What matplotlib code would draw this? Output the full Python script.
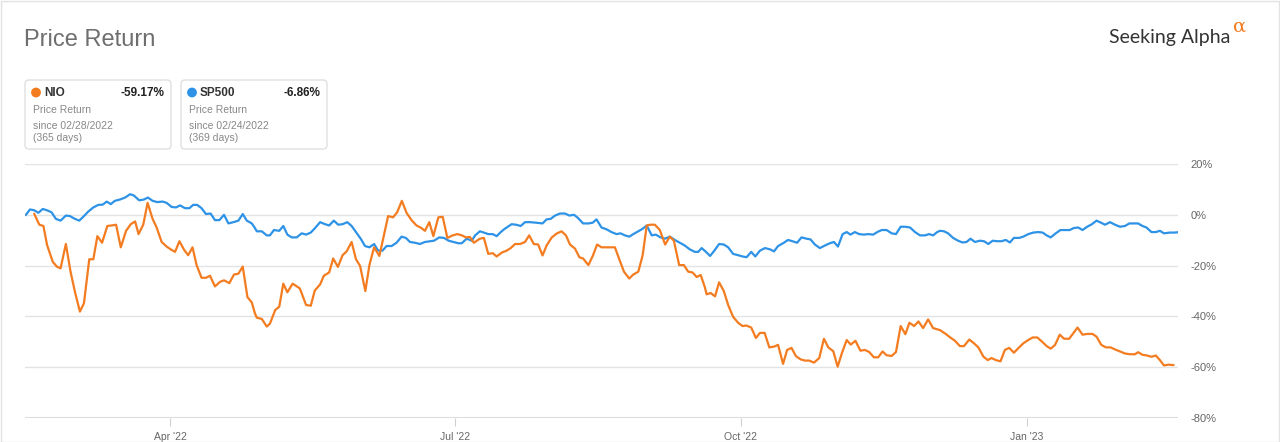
import matplotlib
matplotlib.use("Agg")
import matplotlib.pyplot as plt
from matplotlib.patches import FancyBboxPatch, Rectangle

plt.rcParams['font.family'] = ['Liberation Sans', 'DejaVu Sans']

# ---------------- data (days since 2022-02-24, price return %) ----------------
sp_days = [0.3, 1.6, 2.9, 4.3, 5.7, 7.0, 8.5, 9.9, 11.4, 13.1, 14.4, 16.0, 17.4, 18.9, 20.3,
           21.9, 23.5, 24.9, 26.2, 27.5, 28.8, 30.4, 32.1, 33.7, 34.9, 36.6, 38.1, 39.4, 40.9,
           42.4, 44.1, 45.4, 47.0, 48.4, 49.7, 51.3, 52.7, 53.9, 55.2, 56.6, 58.0, 59.5, 60.9,
           62.3, 63.8, 65.2, 66.8, 68.4, 69.8, 71.1, 72.7, 73.7,
           74.3, 75.9, 77.5, 78.5, 79.8, 81.5, 82.8, 84.1, 85.5, 87.1, 88.7, 90.1, 91.6, 93.0,
           94.6, 96.2, 97.5, 99.0, 100.4, 101.8, 103.3, 104.7, 106.1, 107.6, 109.0, 110.4,
           111.9, 113.2, 114.6, 115.9, 117.5, 119.1, 120.7, 122.1, 123.4, 125.0, 126.6, 128.2,
           129.8, 131.1, 132.8, 134.3, 135.8, 137.3, 138.9, 140.0, 141.6, 143.2, 144.3,
           145.8, 147.1, 148.5, 149.9, 151.2, 152.5, 153.8, 156.0, 157.4, 158.9, 160.3, 161.9,
           163.8, 165.9, 167.2, 168.5, 169.9, 171.5, 173.1, 174.5, 176.0, 177.3, 178.9, 180.6,
           182.0, 183.2, 184.8, 186.4, 188.0, 189.6, 190.9, 192.3, 193.7, 195.0, 196.6, 198.0,
           199.3, 200.9, 202.2, 203.7, 205.2, 206.7, 208.3, 209.9, 211.5, 213.1, 214.7, 215.8,
           216.9, 218.3,
           219.6, 220.8, 222.5, 224.0, 225.4, 227.0, 228.6, 230.0, 231.3, 232.8, 234.1, 235.6,
           237.2, 238.8, 240.1, 241.4, 243.0, 244.6, 246.0, 247.5, 248.9, 250.5, 251.8, 253.2,
           254.8, 256.4, 258.0, 259.3, 260.6, 262.1, 263.4, 264.6, 266.0, 267.4, 268.9, 270.3,
           271.9, 273.2, 274.6, 276.2, 277.8, 279.2, 280.7, 282.1, 283.7, 285.3, 286.9, 288.5,
           289.8, 291.1, 292.4,
           293.3, 294.6, 295.9, 297.5, 299.1, 300.5, 301.8, 303.1, 304.5, 306.1, 307.4, 308.8,
           310.2, 311.6, 313.0, 314.4, 315.7, 317.0, 318.7, 320.0, 321.6, 323.2, 324.8, 326.2,
           327.5, 328.8, 330.4, 331.9, 333.7, 334.9, 336.2, 337.6, 339.0, 340.5, 342.0, 343.5,
           344.9, 346.2, 347.8, 349.4, 351.0, 352.6, 354.0, 355.4, 356.8, 358.2, 359.5, 361.1,
           362.5, 363.8, 365.1, 367.0, 368.6, 369.6]
sp_vals = [0.0, 2.1, 1.8, 0.8, 2.3, 1.8, 1.0, -1.6, -2.3, -0.3, -0.5, -1.6, -2.3, -0.5, 1.3,
           2.9, 3.9, 4.0, 5.2, 4.2, 5.5, 6.0, 6.8, 8.1, 7.6, 5.7, 6.0, 6.8, 5.5,
           5.0, 5.2, 4.7, 3.1, 2.9, 3.7, 2.6, 2.6, 3.9, 3.9, 2.6, 0.3, 0.5, -2.1,
           -2.1, 0.0, -3.4, -2.9, -2.3, 0.3, -2.3, -3.4, -5.2,
           -6.5, -6.5, -8.1, -8.1, -6.0, -6.3, -4.4, -7.8, -8.9, -8.9, -7.3, -7.8, -7.0, -5.2,
           -2.9, -3.7, -4.2, -2.3, -3.9, -3.7, -2.9, -4.4, -6.8, -9.4, -12.3, -12.8,
           -11.5, -14.1, -14.1, -12.3, -12.3, -11.0, -8.6, -9.1, -10.7, -11.0, -11.5, -10.7,
           -10.4, -10.2, -8.9, -9.1, -10.2, -10.7, -11.2, -11.2, -9.4, -10.2, -8.1,
           -6.5, -7.0, -7.6, -7.6, -8.4, -6.8, -5.5, -3.7, -3.9, -4.4, -2.9, -2.9,
           -3.1, -3.4, -1.8, -1.6, -0.3, 0.5, 0.5, -0.3, 0.0, -1.3, -3.4, -3.4,
           -3.1, -1.8, -5.0, -5.7, -6.8, -7.6, -7.3, -8.1, -8.6, -7.6, -6.5, -5.5,
           -4.2, -8.1, -7.8, -8.9, -9.4, -8.6, -9.9, -11.0, -12.1, -13.6, -14.6, -14.6,
           -13.1, -14.6,
           -16.2, -14.4, -11.5, -11.7, -12.8, -15.4, -15.9, -16.4, -16.7, -14.6, -16.4, -14.1,
           -13.1, -13.6, -14.4, -12.3, -11.2, -9.9, -10.4, -11.0, -8.9, -9.4, -9.7, -11.7,
           -13.1, -12.1, -11.2, -10.7, -12.5, -7.6, -6.8, -7.8, -6.8, -7.6, -7.8, -7.6,
           -7.8, -6.8, -6.0, -6.0, -7.3, -7.6, -4.7, -4.7, -5.0, -6.8, -8.1, -8.1,
           -7.6, -8.1, -6.8,
           -6.3, -6.5, -7.3, -9.1, -10.2, -10.9, -10.7, -9.4, -10.7, -10.2, -10.4, -11.5,
           -10.2, -10.4, -10.4, -9.9, -10.9, -9.1, -9.1, -8.6, -7.6, -7.0, -6.8, -7.0,
           -8.1, -8.9, -7.3, -6.0, -6.0, -6.0, -5.2, -5.0, -6.0, -4.7, -3.7, -2.3,
           -3.1, -3.9, -2.9, -3.9, -4.7, -4.4, -3.4, -3.4, -3.4, -4.4, -5.0, -6.8,
           -6.8, -6.3, -7.3, -7.0, -7.0, -6.86]

nio_days = [3.0, 3.7, 4.6, 5.9, 7.1, 8.9, 10.2, 11.4, 13.1, 14.6, 16.0, 17.6, 18.9, 20.6,
            21.9, 23.2, 24.7, 26.4, 27.8, 29.2, 30.7, 32.4, 33.9, 35.3, 36.4, 37.9, 39.3,
            40.9, 42.2, 43.8, 45.4, 46.7, 48.1, 49.5, 51.0, 52.3, 53.7, 55.0, 56.6, 58.0,
            59.3, 60.9, 62.5, 63.8, 65.5, 67.0, 68.4, 69.8, 71.3, 72.7, 73.7,
            74.3, 75.9, 77.5, 78.5, 80.2, 81.5,
            82.8, 84.1, 85.8, 88.1, 90.1, 91.6, 92.9, 94.6, 95.8, 97.5, 98.8, 100.3, 101.8,
            103.1, 104.7, 106.1, 107.4, 109.1, 110.4, 111.9, 113.6, 114.8, 116.4, 118.0,
            119.3, 120.8, 122.3, 123.9, 125.5, 126.8, 128.2, 129.6, 130.9, 132.5, 133.9,
            135.4, 137.1, 138.6, 140.1, 141.3, 142.6, 143.9,
            145.8, 147.1, 148.5, 149.9, 151.2, 152.8, 154.4, 155.7, 157.1, 158.7, 160.3,
            161.6, 163.1, 164.5, 165.9, 167.2, 168.8, 170.4, 172.0, 173.4, 174.7, 176.3,
            177.7, 178.9, 180.6, 182.0, 183.4, 184.8, 186.4, 188.0, 189.1, 190.5, 192.0,
            193.7, 195.0, 196.6, 198.0, 199.3, 200.5, 201.9, 203.5, 205.2, 206.7, 208.0,
            209.7, 211.2, 212.6, 214.0, 215.3, 216.6, 217.9, 218.5, 219.8,
            221.2, 222.5, 224.0, 225.4, 227.0, 228.6, 230.0, 231.3, 232.8, 234.3, 235.6,
            237.1, 238.6, 240.1, 241.4, 243.0, 244.3, 245.7, 247.1, 248.6, 250.0, 251.4,
            252.9, 254.6, 256.1, 257.5, 259.1, 260.5, 261.9, 263.4, 264.7, 266.2, 267.8,
            269.2, 270.6, 272.1, 273.5, 274.9, 276.2, 277.8, 279.2, 280.7, 282.2, 283.5,
            285.0, 286.4, 287.9, 289.5, 291.1,
            293.3, 294.9, 296.5, 298.1, 299.7, 301.0, 302.7, 304.2, 305.6, 307.2, 308.6,
            309.8, 311.2, 312.7, 314.1, 315.5, 317.0, 318.5, 320.0, 321.6, 323.0, 324.5,
            325.9, 327.5, 328.8, 330.2, 331.7, 333.1, 334.7, 336.0, 337.4, 339.0, 340.5,
            342.2, 343.5, 345.0, 346.5, 348.0, 349.4, 351.0, 352.6, 354.2, 355.8, 356.8,
            358.2, 359.7, 361.1, 362.5, 363.8, 365.1, 366.6, 368.1]
nio_vals = [0.3, -1.6, -3.9, -4.4, -12.0, -18.5, -20.4, -21.1, -11.5, -22.4, -30.3, -38.1,
            -34.8, -17.5, -17.5, -8.4, -11.0, -4.4, -4.2, -3.9, -12.8, -6.3, -3.7, -2.6,
            -7.6, -3.9, 4.7, -1.6, -5.0, -10.7, -12.5, -13.6, -14.6, -10.4, -13.8, -15.9,
            -12.8, -19.8, -24.8, -24.8, -24.0, -28.2, -26.4, -25.8, -26.9, -23.5, -23.2,
            -20.4, -32.4, -34.5, -38.8,
            -40.5, -41.0, -44.0, -42.9, -37.5, -36.2,
            -27.1, -30.5, -27.1, -29.0, -35.5, -35.8, -29.8, -27.4, -24.0, -22.7, -17.2,
            -20.5, -15.9, -14.4, -10.7, -17.5, -20.1, -30.0, -19.8, -12.8, -16.2, -9.4,
            -0.5, -1.0, 1.0, 5.5, 0.8, -2.1, -4.2, -5.0, -6.3, -2.9, -8.4, -1.0, -0.8,
            -9.1, -8.1, -7.6, -8.1, -8.9, -8.7, -11.0,
            -9.4, -9.1, -15.4, -15.1, -16.4, -14.9, -14.1, -13.1, -11.5, -11.5, -10.7,
            -8.1, -11.5, -11.7, -16.0, -12.1, -9.0, -7.4, -6.5, -8.1, -11.7, -13.3,
            -16.7, -17.2, -19.8, -16.2, -11.7, -12.8, -12.8, -12.8, -12.8, -17.5, -22.4,
            -25.1, -23.5, -22.4, -15.9, -4.2, -3.9, -3.9, -6.0, -11.7, -8.6, -10.2,
            -19.8, -19.8, -22.4, -22.7, -24.5, -23.7, -28.4, -31.3, -30.8,
            -32.1, -26.6, -30.0, -35.5, -40.2, -42.5, -43.8, -43.6, -44.4, -48.5, -46.5,
            -46.5, -52.2, -51.9, -51.2, -58.7, -53.2, -52.4, -55.6, -56.9, -57.4, -57.4,
            -58.2, -56.4, -48.8, -52.2, -53.7, -59.8, -54.3, -49.3, -51.1, -49.6, -53.5,
            -53.2, -54.0, -56.1, -56.1, -53.8, -55.3, -55.6, -54.0, -43.8, -47.0, -42.5,
            -43.8, -42.0, -44.6, -41.2, -44.6,
            -45.4, -46.7, -48.2, -49.6, -51.7, -51.7, -49.1, -50.6, -52.2, -55.8, -57.2,
            -56.4, -57.2, -57.7, -53.2, -52.4, -54.3, -52.4, -50.6, -49.3, -48.3, -48.3,
            -49.8, -51.7, -52.7, -51.2, -47.2, -48.8, -48.8, -46.7, -44.4, -47.2, -46.9,
            -46.9, -48.0, -51.2, -52.2, -52.2, -53.0, -53.8, -54.6, -54.9, -54.9, -54.1,
            -55.1, -55.4, -55.9, -55.4, -57.2, -59.3, -59.0, -59.17]

x_tick_days = [46.5, 137.8, 229.5, 321.2]
x_tick_labels = ["Apr '22", "Jul '22", "Oct '22", "Jan '23"]
y_ticks = [20, 0, -20, -40, -60, -80]

series_names = ["NIO", "SP500"]
series_returns = ["-59.17%", "-6.86%"]
series_since = ["since 02/28/2022", "since 02/24/2022"]
series_days = ["(365 days)", "(369 days)"]

ORANGE = '#f47c20'
BLUE = '#2e93e6'
GRID = '#e3e3e3'
TXT = '#666666'

# ---------------- figure ----------------
W, H = 1280, 442
fig = plt.figure(figsize=(W / 100, H / 100), dpi=100)
fig.patch.set_facecolor('white')

ax = fig.add_axes([25 / W, (H - 418) / H, (1178 - 25) / W, (418 - 164) / H])
ax.set_xlim(0, 369.6)
ax.set_ylim(-80, 20)
for s in ax.spines.values():
    s.set_visible(False)
ax.set_facecolor('none')

for yv in y_ticks:
    if yv == -80:
        ax.axhline(yv, color='#dcdcdc', lw=2.2, zorder=1)
    else:
        ax.axhline(yv, color=GRID, lw=1.0, zorder=1)

ax.plot(sp_days, sp_vals, color=BLUE, lw=1.6, zorder=3, solid_joinstyle='round')
ax.plot(nio_days, nio_vals, color=ORANGE, lw=1.6, zorder=4, solid_joinstyle='round')

ax.set_yticks(y_ticks)
ax.set_yticklabels([f"{v}%" for v in y_ticks])
ax.yaxis.tick_right()
ax.tick_params(axis='y', length=0, pad=9, labelsize=8, labelcolor=TXT)
ax.set_xticks(x_tick_days)
ax.set_xticklabels(x_tick_labels)
ax.tick_params(axis='x', length=6, width=0.8, color='#d0d0d0', pad=4, labelsize=7.5,
               labelcolor=TXT)

# ---------------- overlay (title, legend cards, logo) ----------------
ov = fig.add_axes([0, 0, 1, 1], zorder=5)
ov.set_xlim(0, W)
ov.set_ylim(H, 0)
ov.axis('off')
ov.patch.set_alpha(0)

ov.add_patch(Rectangle((0.5, 0.5), W - 2, H - 1, fill=False, ec='#e2e2e2', lw=1))

ov.text(24, 40, "Price Return", fontsize=17, color='#6e6e6e', va='center', ha='left')

ov.text(1109, 37, "Seeking Alpha", fontsize=14, color='#333333', va='center', ha='left',
        family=['Lato', 'DejaVu Sans'])
ov.text(1233, 27, "α", fontsize=14, color=ORANGE, va='center', ha='left',
        family=['DejaVu Serif'])

colors = [ORANGE, BLUE]
for i in range(2):
    x0 = 25 + i * 156
    ov.add_patch(FancyBboxPatch((x0, 80), 146, 69, boxstyle="round,pad=0,rounding_size=4",
                                fc='white', ec='#dddddd', lw=0.9))
    ov.add_patch(plt.Circle((x0 + 11, 92.5), 4.2, color=colors[i]))
    ov.text(x0 + 19, 93, series_names[i], fontsize=8.5, fontweight='bold', color='#333333',
            va='center', ha='left')
    ov.text(x0 + 139, 93, series_returns[i], fontsize=8.5, fontweight='bold', color='#222222',
            va='center', ha='right')
    ov.text(x0 + 8, 110, "Price Return", fontsize=7.5, color='#888888', va='center', ha='left')
    ov.text(x0 + 8, 126, series_since[i], fontsize=7.5, color='#888888', va='center', ha='left')
    ov.text(x0 + 8, 138, series_days[i], fontsize=7.5, color='#888888', va='center', ha='left')

fig.savefig("out.png", dpi=100, facecolor='white')
